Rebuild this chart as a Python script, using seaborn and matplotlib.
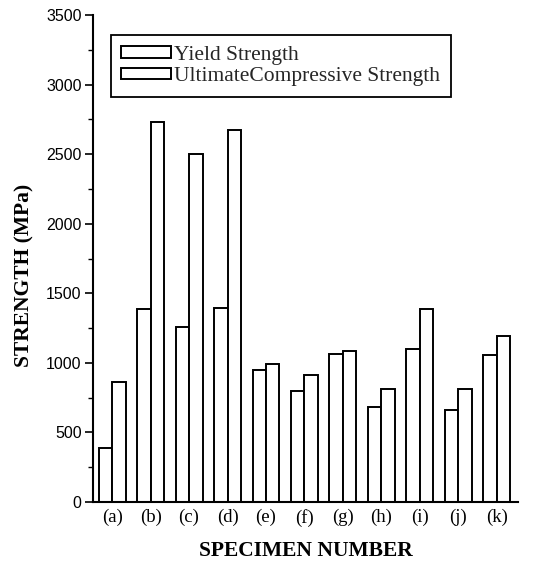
import matplotlib
matplotlib.use("Agg")
import matplotlib.pyplot as plt
import seaborn as sns
import pandas as pd

specimens = ["(a)", "(b)", "(c)", "(d)", "(e)", "(f)", "(g)", "(h)", "(i)", "(j)", "(k)"]
yield_strength = [385, 1385, 1260, 1395, 945, 795, 1060, 685, 1100, 660, 1055]
ultimate_strength = [865, 2735, 2500, 2675, 995, 915, 1085, 815, 1390, 810, 1195]
series_names = ["Yield Strength", "UltimateCompressive Strength"]
y_ticks = [0, 500, 1000, 1500, 2000, 2500, 3000, 3500]

df = pd.DataFrame({
    "specimen": specimens * 2,
    "strength": yield_strength + ultimate_strength,
    "series": [series_names[0]] * len(specimens) + [series_names[1]] * len(specimens),
})

sns.set_theme(style="ticks")
plt.rcParams["font.family"] = ["Liberation Serif", "DejaVu Serif"]

fig = plt.figure(figsize=(5.43, 5.62), dpi=100)
ax = fig.add_axes([0.171, 0.107, 0.783, 0.866])

sns.barplot(data=df, x="specimen", y="strength", hue="series", order=specimens,
            hue_order=series_names, palette=["white", "white"], edgecolor="black",
            linewidth=1.4, width=0.7, saturation=1, ax=ax, errorbar=None)

ax.set_ylim(0, 3500)
ax.set_xlim(-0.5, 10.55)
ax.set_yticks(y_ticks)
ax.set_yticks(range(250, 3500, 500), minor=True)
ax.set_yticklabels([str(v) for v in y_ticks], family="Liberation Sans", fontsize=11.5)
ax.tick_params(axis="y", which="major", direction="out", length=6, width=1.2, colors="black", pad=2)
ax.tick_params(axis="y", which="minor", direction="out", length=3.5, width=1.0, colors="black")
ax.tick_params(axis="x", length=0, labelsize=13.5, pad=5, colors="black")
for t in ax.get_xticklabels():
    t.set_family("Liberation Serif")

sns.despine(ax=ax, top=True, right=True)
for s in ["left", "bottom"]:
    ax.spines[s].set_linewidth(1.5)
    ax.spines[s].set_color("black")

ax.set_xlabel("SPECIMEN NUMBER", fontsize=15.5, fontweight="bold", labelpad=10, color="black")
ax.set_ylabel("STRENGTH (MPa)", fontsize=15.5, fontweight="bold", color="black")
ax.yaxis.set_label_coords(-0.138, 0.466)

handles, labels = ax.get_legend_handles_labels()
leg = ax.legend(handles, labels, loc="upper left", bbox_to_anchor=(0.042, 0.959),
                frameon=True, fancybox=False, edgecolor="black", framealpha=1,
                fontsize=15.5, handlelength=2.3, handleheight=0.45, handletextpad=0.15,
                borderpad=0.5, labelspacing=0.1, borderaxespad=0)
leg.get_frame().set_linewidth(1.3)

fig.savefig("out.png", dpi=100, facecolor="white")
